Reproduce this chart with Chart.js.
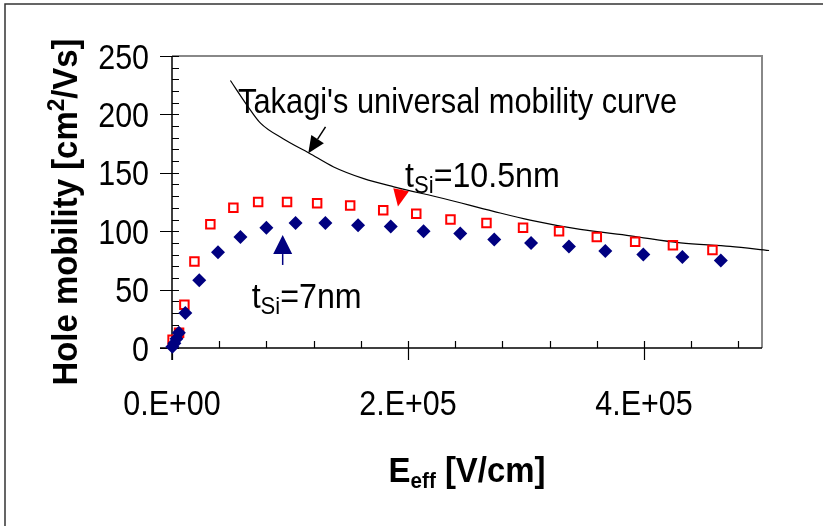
<!DOCTYPE html>
<html>
<head>
<meta charset="utf-8">
<script src="https://cdn.jsdelivr.net/npm/chart.js@4.4.1/dist/chart.umd.min.js"></script>
<style>
  html, body { margin: 0; padding: 0; background: #fff; }
  canvas { display: block; }
</style>
</head>
<body>
<canvas id="mobilityChart" width="823" height="526"></canvas>
<script>
// effective field [V/cm] vs hole mobility [cm2/Vs]
const fieldThick = [500, 6000, 10500, 19000, 32500, 52000, 73000, 97500, 123000, 151000,
  179000, 207000, 236000, 266500, 297500, 328000, 360000, 392500, 424500, 458000];
const mobilityThick = [7, 13, 37, 74, 106, 120, 125, 125, 124, 122,
  118, 115, 110, 107, 103, 100, 95, 91, 88, 84];

const fieldThin = [300, 2000, 3800, 5800, 11300, 23100, 39000, 58000, 80000, 104700, 130000,
  157700, 185400, 213200, 244300, 273100, 304300, 336400, 367200, 399400, 432500, 465100];
const mobilityThin = [1, 4, 8, 13, 30, 58, 82, 95, 103, 107, 107,
  105, 104, 100, 98, 93, 90, 87, 83, 80, 78, 75];

const fieldTakagi = [49500, 63500, 75000, 94500, 116000, 137000, 162500, 188000, 230000,
  272500, 303500, 346000, 388500, 431000, 473000, 506000];
const mobilityTakagi = [229, 208, 192.5, 179, 167, 155, 145, 138, 128,
  117, 109.5, 101.5, 96, 90, 87, 83.5];

const xTickValues = [0, 200000, 400000];
const xTickLabels = ['0.E+00', '2.E+05', '4.E+05'];
const yTickValues = [0, 50, 100, 150, 200, 250];
const yTickLabels = ['0', '50', '100', '150', '200', '250'];

const X_MAX = 500000, X_MINOR = 40000;
const Y_MAX = 250, Y_MINOR = 10;

const FONT = "'Liberation Sans', Arial, sans-serif";

// text labels and arrows, anchored in data units
const notes = [
  { x: 56000, y: 201, squeeze: 0.88, parts: [["Takagi's universal mobility curve", 35, 0]] },
  { x: 197500, y: 138, squeeze: 0.92, parts: [['t', 35, 0], ['Si', 24, 6], ['=10.5nm', 35, 0]] },
  { x: 67500, y: 34, squeeze: 0.92, parts: [['t', 35, 0], ['Si', 24, 6], ['=7nm', 35, 0]] }
];
const arrows = [
  { from: [130100, 189.3], to: [115500, 166.7], color: '#000000', head: 17, width: 15 },
  { from: [194300, 136], to: [191500, 121.1], color: '#ff0000', head: 17, width: 16 },
  { from: [93800, 71.1], to: [93800, 96.7], color: '#000080', head: 19, width: 19 }
];

const toPoints = (xs, ys) => xs.map((x, i) => ({ x: x, y: ys[i] }));

function drawRich(ctx, parts, x, y, opts) {
  ctx.save();
  ctx.translate(x, y);
  if (opts.rotate) ctx.rotate(opts.rotate);
  ctx.scale(opts.squeeze || 1, 1);
  ctx.fillStyle = opts.color || '#000';
  ctx.textBaseline = 'alphabetic';
  const weight = opts.bold ? 'bold ' : '';
  let total = 0;
  const widths = parts.map(p => {
    ctx.font = weight + p[1] + 'px ' + FONT;
    const w = ctx.measureText(p[0]).width;
    total += w;
    return w;
  });
  let cx = 0;
  if (opts.align === 'center') cx = -total / 2;
  if (opts.align === 'right') cx = -total;
  parts.forEach((p, i) => {
    ctx.font = weight + p[1] + 'px ' + FONT;
    ctx.fillText(p[0], cx, p[2]);
    cx += widths[i];
  });
  ctx.restore();
}

function drawArrow(ctx, x0, y0, x1, y1, a) {
  const dx = x1 - x0, dy = y1 - y0;
  const len = Math.hypot(dx, dy);
  const ux = dx / len, uy = dy / len;
  const bx = x1 - ux * a.head, by = y1 - uy * a.head;
  ctx.save();
  ctx.strokeStyle = a.color;
  ctx.fillStyle = a.color;
  ctx.lineWidth = 1.5;
  if (len > a.head) {
    ctx.beginPath();
    ctx.moveTo(x0, y0);
    ctx.lineTo(bx, by);
    ctx.stroke();
  }
  ctx.beginPath();
  ctx.moveTo(x1, y1);
  ctx.lineTo(bx - uy * a.width / 2, by + ux * a.width / 2);
  ctx.lineTo(bx + uy * a.width / 2, by - ux * a.width / 2);
  ctx.closePath();
  ctx.fill();
  ctx.restore();
}

const frame = {
  id: 'frame',
  beforeDatasetsDraw(chart) {
    const ctx = chart.ctx;
    const { left, right, top, bottom } = chart.chartArea;
    const xs = chart.scales.x, ys = chart.scales.y;
    ctx.save();
    // outer box
    ctx.strokeStyle = '#333';
    ctx.lineWidth = 1.5;
    ctx.strokeRect(5, 4, 900, 900);

    // top and right border of the plot
    ctx.strokeStyle = '#888';
    ctx.lineWidth = 2;
    ctx.beginPath();
    ctx.moveTo(left, top);
    ctx.lineTo(right, top);
    ctx.lineTo(right, bottom);
    ctx.stroke();

    // axes
    ctx.strokeStyle = '#000';
    ctx.lineWidth = 1.5;
    ctx.beginPath();
    ctx.moveTo(left, top);
    ctx.lineTo(left, bottom + 12);
    ctx.moveTo(left - 12, bottom);
    ctx.lineTo(right, bottom);
    ctx.stroke();

    ctx.lineWidth = 1.2;
    ctx.beginPath();
    for (let v = 0; v < X_MAX; v += X_MINOR) {
      const px = Math.round(xs.getPixelForValue(v)) + 0.5;
      const major = xTickValues.includes(v);
      ctx.moveTo(px, bottom - 7);
      ctx.lineTo(px, major ? bottom + 12 : bottom);
    }
    for (let v = 0; v <= Y_MAX; v += Y_MINOR) {
      const py = Math.round(ys.getPixelForValue(v)) + 0.5;
      const major = yTickValues.includes(v);
      ctx.moveTo(left + 7, py);
      ctx.lineTo(major ? left - 12 : left, py);
    }
    ctx.stroke();
    ctx.restore();

    // tick labels
    xTickValues.forEach((v, i) => {
      drawRich(ctx, [[xTickLabels[i], 35, 0]], xs.getPixelForValue(v), bottom + 67,
        { align: 'center', squeeze: 0.87 });
    });
    yTickValues.forEach((v, i) => {
      drawRich(ctx, [[yTickLabels[i], 35, 0]], left - 23, ys.getPixelForValue(v) + 12.5,
        { align: 'right', squeeze: 0.87 });
    });
  },
  afterDatasetsDraw(chart) {
    const ctx = chart.ctx;
    const xs = chart.scales.x, ys = chart.scales.y;
    const { left, right, top, bottom } = chart.chartArea;

    notes.forEach(n => {
      drawRich(ctx, n.parts, xs.getPixelForValue(n.x), ys.getPixelForValue(n.y), { squeeze: n.squeeze });
    });
    arrows.forEach(a => {
      drawArrow(ctx,
        xs.getPixelForValue(a.from[0]), ys.getPixelForValue(a.from[1]),
        xs.getPixelForValue(a.to[0]), ys.getPixelForValue(a.to[1]), a);
    });

    // axis titles
    drawRich(ctx, [['E', 35, 0], ['eff', 22, 6], [' [V/cm]', 35, 0]],
      (left + right) / 2, 482, { bold: true, align: 'center', squeeze: 0.94 });
    drawRich(ctx, [['Hole mobility [cm', 35, 0], ['2', 24, -13], ['/Vs]', 35, 0]],
      77, (top + bottom) / 2 + 10, { bold: true, align: 'center', squeeze: 0.94, rotate: -Math.PI / 2 });
  }
};

new Chart(document.getElementById('mobilityChart'), {
  type: 'scatter',
  data: {
    datasets: [
      {
        label: 'tSi=7nm',
        data: toPoints(fieldThin, mobilityThin),
        pointStyle: 'rectRot',
        pointRadius: 7,
        backgroundColor: '#000080',
        borderColor: '#000080',
        borderWidth: 0,
        clip: false
      },
      {
        label: 'tSi=10.5nm',
        data: toPoints(fieldThick, mobilityThick),
        pointStyle: 'rect',
        pointRadius: 6,
        backgroundColor: 'rgba(255,255,255,0)',
        borderColor: '#ff0000',
        borderWidth: 2,
        clip: false
      },
      {
        label: "Takagi's universal mobility curve",
        data: toPoints(fieldTakagi, mobilityTakagi),
        showLine: true,
        pointRadius: 0,
        borderColor: '#000000',
        borderWidth: 1.2,
        cubicInterpolationMode: 'monotone',
        clip: false
      }
    ]
  },
  options: {
    responsive: false,
    animation: false,
    devicePixelRatio: 1,
    layout: { padding: { left: 0, top: 56, right: 61, bottom: 78 } },
    plugins: { legend: { display: false }, tooltip: { enabled: false } },
    scales: {
      x: {
        type: 'linear',
        min: 0,
        max: X_MAX,
        grid: { display: false, drawTicks: false },
        border: { display: false },
        afterBuildTicks: s => { s.ticks = xTickValues.map(v => ({ value: v })); },
        afterFit: s => { s.height = 100; },
        ticks: { display: false }
      },
      y: {
        type: 'linear',
        min: 0,
        max: Y_MAX,
        grid: { display: false, drawTicks: false },
        border: { display: false },
        afterBuildTicks: s => { s.ticks = yTickValues.map(v => ({ value: v })); },
        afterFit: s => { s.width = 172; },
        ticks: { display: false }
      }
    }
  },
  plugins: [frame]
});
</script>
</body>
</html>
